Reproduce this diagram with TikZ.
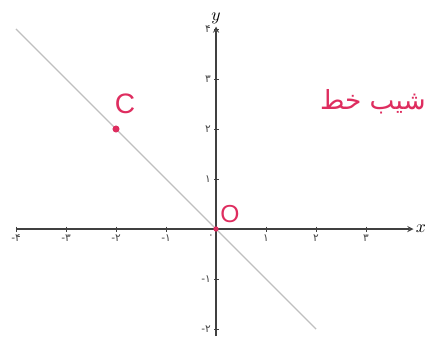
\documentclass[tikz,border=0pt]{standalone}
\usepackage{fontspec}
\newfontfamily\arabicfont[Script=Arabic]{DejaVu Sans}
\newfontfamily\digitfont{DejaVu Sans}
\newfontfamily\penfont{Liberation Sans}
\TeXXeTstate=1
\usepackage{xcolor}
\definecolor{penred}{RGB}{222,45,95}

\begin{document}
\begin{tikzpicture}[x=1cm,y=1cm,
    axis/.style={draw=black!75, line width=0.6pt, -stealth},
    tick/.style={font=\digitfont\fontsize{6}{7}\selectfont, text=black!75, inner sep=1pt},
    dot/.style={circle, fill=penred, inner sep=0pt, minimum size=4pt},
    pen/.style={text=penred, inner sep=0pt}]
    \useasboundingbox (-4.32,-2.14) rectangle (4.26,4.58);

    % Axes
    \draw[axis] (-4,0) -- (3.95,0) node[right, inner sep=1pt] {$x$};
    \draw[axis] (0,-2.14) -- (0,4.05) node[above, inner sep=1pt] {$y$};

    % Ticks and labels
    \foreach \i/\t in {-4/-۴,-3/-۳,-2/-۲,-1/-۱,1/۱,2/۲,3/۳} {
        \draw[black!75] (\i,0.05) -- (\i,-0.05);
        \node[tick, below] at (\i,-0.08) {\beginL\t\endL};
    }
    \foreach \i/\t in {-2/-۲,-1/-۱,1/۱,2/۲,3/۳,4/۴} {
        \draw[black!75] (0.05,\i) -- (-0.05,\i);
        \node[tick, left] at (-0.06,\i) {\beginL\t\endL};
    }
    \node[tick, below left] at (0,-0.08) {۰};

    % Line y = -x
    \coordinate (lineA) at (-4,4);
    \coordinate (lineB) at (2,-2);
    \draw[black!25, line width=0.8pt] (lineA) -- (lineB);

    % Points
    \node[dot] (C) at (-2,2) {};
    \node[dot, minimum size=3pt] (O) at (0,0) {};
    \node[pen, font=\penfont\fontsize{16}{18}\selectfont] (Clabel) at (-1.82,2.5) {C};
    \node[pen, font=\penfont\fontsize{14}{16}\selectfont] (Olabel) at (0.28,0.3) {O};

    % Slope text
    \node[pen, font=\arabicfont\fontsize{15}{18}\selectfont, anchor=east] (slope) at (4.2,2.55) {\beginR شیب خط\endR};
\end{tikzpicture}
\end{document}
